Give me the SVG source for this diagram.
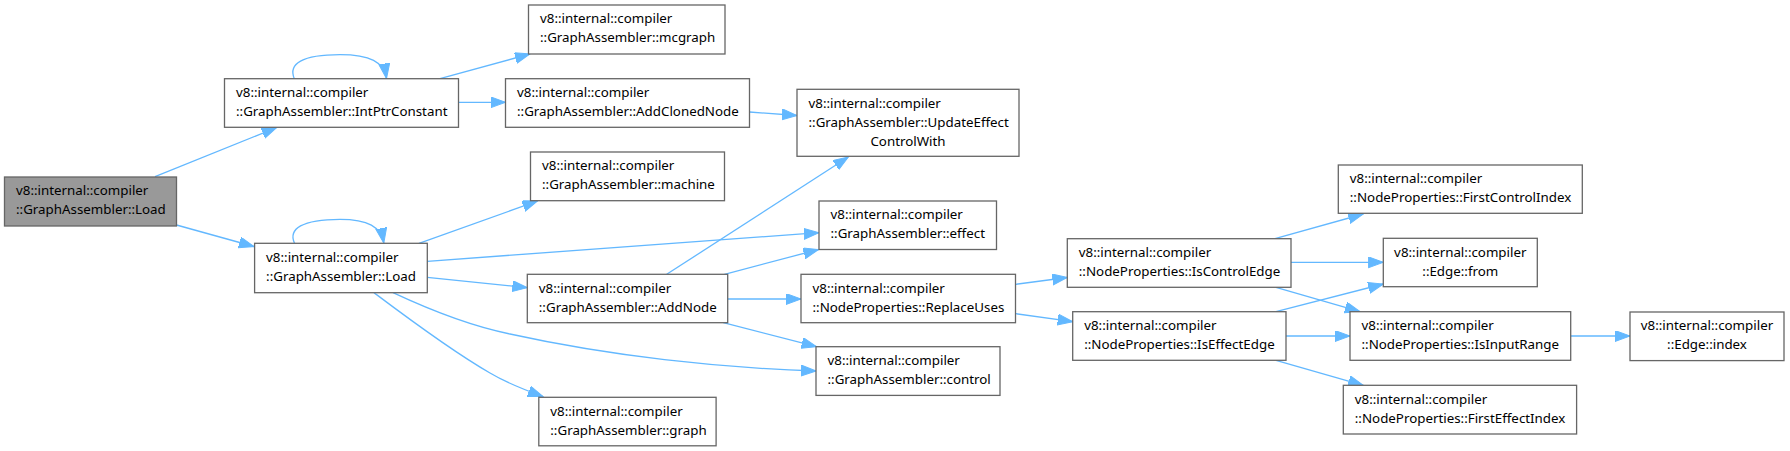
<svg xmlns="http://www.w3.org/2000/svg" width="1790" height="451" viewBox="0 0 1790 451">
<defs>
<style>
.n rect{fill:#ffffff;stroke:#666666;stroke-width:1.3}
.n.hl rect{fill:#999999}
.n text{font-family:"Noto Sans","DejaVu Sans",sans-serif;font-size:13.33px;fill:#000000}
.n text.c{text-anchor:middle}
.e path{fill:none;stroke:#63b8ff;stroke-width:1.3;marker-end:url(#arr)}
</style>
<marker id="arr" markerUnits="userSpaceOnUse" markerWidth="16" markerHeight="12" refX="15" refY="5.5" orient="auto">
<path d="M0,0 L15,5.5 L0,11 z" fill="#63b8ff" stroke="#63b8ff" stroke-width="1"/>
</marker>
</defs>
<rect x="0" y="0" width="1790" height="451" fill="#ffffff"/>
<g id="edges" class="e">
<path d="M155,176.7 L276.7,127.5"/>
<path d="M176.5,225 L254,246.5"/>
<path d="M294.3,78.7 C288,64 302,54.7 340,54.7 C370,54.7 384,62 386.5,78.5"/>
<path d="M440,78.7 L530,54"/>
<path d="M458.3,102.3 L505.5,102.3"/>
<path d="M749.5,112 L797,115.5"/>
<path d="M294.5,243.3 C288,229 302,219.3 340,219.3 C368,219.3 381,227 383.8,243"/>
<path d="M419,243.3 L537.5,201"/>
<path d="M427.3,261.3 L819,232.7"/>
<path d="M427.3,277.3 L527.3,287.7"/>
<path d="M393,292.7 C430,310 470,326 510,334 C610,356 720,368 816,371"/>
<path d="M374,292.7 C405,316 450,350 490,373 C505,382 525,390 543,396.5"/>
<path d="M666.7,274.3 L848.3,157"/>
<path d="M724.5,274.3 L818.5,249.5"/>
<path d="M727.7,299 L801,299"/>
<path d="M723.3,322.7 L816.5,346.7"/>
<path d="M1015.7,284.3 L1067.3,277.5"/>
<path d="M1015.7,313.7 L1072.7,321.7"/>
<path d="M1275,238.7 L1363.3,214"/>
<path d="M1291,262.3 L1383.3,262.3"/>
<path d="M1276,287.3 L1360,311.7"/>
<path d="M1276,311.7 L1383.3,284"/>
<path d="M1286,336 L1350,336"/>
<path d="M1276,360.3 L1363.3,385.3"/>
<path d="M1570.7,336 L1630,336"/>
</g>
<g id="node_load" class="n hl">
<rect x="4.5" y="177" width="172" height="49"/>
<text x="16" y="195.3">v8::internal::compiler</text>
<text x="16" y="214.3">::GraphAssembler::Load</text>
</g>
<g id="node_intptrconstant" class="n">
<rect x="224.5" y="78.7" width="234" height="48.6"/>
<text x="236" y="97">v8::internal::compiler</text>
<text x="236" y="116">::GraphAssembler::IntPtrConstant</text>
</g>
<g id="node_mcgraph" class="n">
<rect x="528.5" y="5" width="196.5" height="49"/>
<text x="540" y="23.3">v8::internal::compiler</text>
<text x="540" y="42.3">::GraphAssembler::mcgraph</text>
</g>
<g id="node_addclonednode" class="n">
<rect x="505.5" y="78.7" width="244" height="48.6"/>
<text x="517" y="97">v8::internal::compiler</text>
<text x="517" y="116">::GraphAssembler::AddClonedNode</text>
</g>
<g id="node_updateeffectcontrolwith" class="n">
<rect x="797" y="89.3" width="222" height="67"/>
<text x="808.5" y="107.5">v8::internal::compiler</text>
<text x="808.5" y="126.5">::GraphAssembler::UpdateEffect</text>
<text class="c" x="908" y="145.5">ControlWith</text>
</g>
<g id="node_machine" class="n">
<rect x="530.5" y="152" width="194" height="48.7"/>
<text x="542" y="170.3">v8::internal::compiler</text>
<text x="542" y="189.3">::GraphAssembler::machine</text>
</g>
<g id="node_effect" class="n">
<rect x="819" y="201" width="177.5" height="48.5"/>
<text x="830.5" y="219.3">v8::internal::compiler</text>
<text x="830.5" y="238.3">::GraphAssembler::effect</text>
</g>
<g id="node_load2" class="n">
<rect x="254.6" y="243.3" width="172.7" height="49.4"/>
<text x="266.1" y="261.6">v8::internal::compiler</text>
<text x="266.1" y="280.6">::GraphAssembler::Load</text>
</g>
<g id="node_addnode" class="n">
<rect x="527.3" y="274.3" width="200.4" height="48.4"/>
<text x="538.8" y="292.6">v8::internal::compiler</text>
<text x="538.8" y="311.6">::GraphAssembler::AddNode</text>
</g>
<g id="node_replaceuses" class="n">
<rect x="801" y="274.3" width="214.5" height="48.4"/>
<text x="812.5" y="292.6">v8::internal::compiler</text>
<text x="812.5" y="311.6">::NodeProperties::ReplaceUses</text>
</g>
<g id="node_control" class="n">
<rect x="816" y="346.7" width="184" height="48.7"/>
<text x="827.5" y="365">v8::internal::compiler</text>
<text x="827.5" y="384">::GraphAssembler::control</text>
</g>
<g id="node_graph" class="n">
<rect x="538.8" y="397.3" width="177.3" height="48.5"/>
<text x="550.3" y="415.6">v8::internal::compiler</text>
<text x="550.3" y="434.6">::GraphAssembler::graph</text>
</g>
<g id="node_iscontroledge" class="n">
<rect x="1067.3" y="238.7" width="223.7" height="48.6"/>
<text x="1078.8" y="257">v8::internal::compiler</text>
<text x="1078.8" y="276">::NodeProperties::IsControlEdge</text>
</g>
<g id="node_iseffectedge" class="n">
<rect x="1072.7" y="311.7" width="213.3" height="48.6"/>
<text x="1084.2" y="330">v8::internal::compiler</text>
<text x="1084.2" y="349">::NodeProperties::IsEffectEdge</text>
</g>
<g id="node_firstcontrolindex" class="n">
<rect x="1338.3" y="165" width="244" height="48.3"/>
<text x="1349.8" y="183.3">v8::internal::compiler</text>
<text x="1349.8" y="202.3">::NodeProperties::FirstControlIndex</text>
</g>
<g id="node_edge_from" class="n">
<rect x="1383.3" y="238.3" width="154" height="48.4"/>
<text class="c" x="1460.3" y="256.6">v8::internal::compiler</text>
<text class="c" x="1460.3" y="275.6">::Edge::from</text>
</g>
<g id="node_isinputrange" class="n">
<rect x="1350" y="311.7" width="220.7" height="48.6"/>
<text x="1361.5" y="330">v8::internal::compiler</text>
<text x="1361.5" y="349">::NodeProperties::IsInputRange</text>
</g>
<g id="node_firsteffectindex" class="n">
<rect x="1343.3" y="385.3" width="233.3" height="48.7"/>
<text x="1354.8" y="403.6">v8::internal::compiler</text>
<text x="1354.8" y="422.6">::NodeProperties::FirstEffectIndex</text>
</g>
<g id="node_edge_index" class="n">
<rect x="1630" y="312" width="154" height="48.6"/>
<text class="c" x="1707" y="330.3">v8::internal::compiler</text>
<text class="c" x="1707" y="349.3">::Edge::index</text>
</g>
</svg>
